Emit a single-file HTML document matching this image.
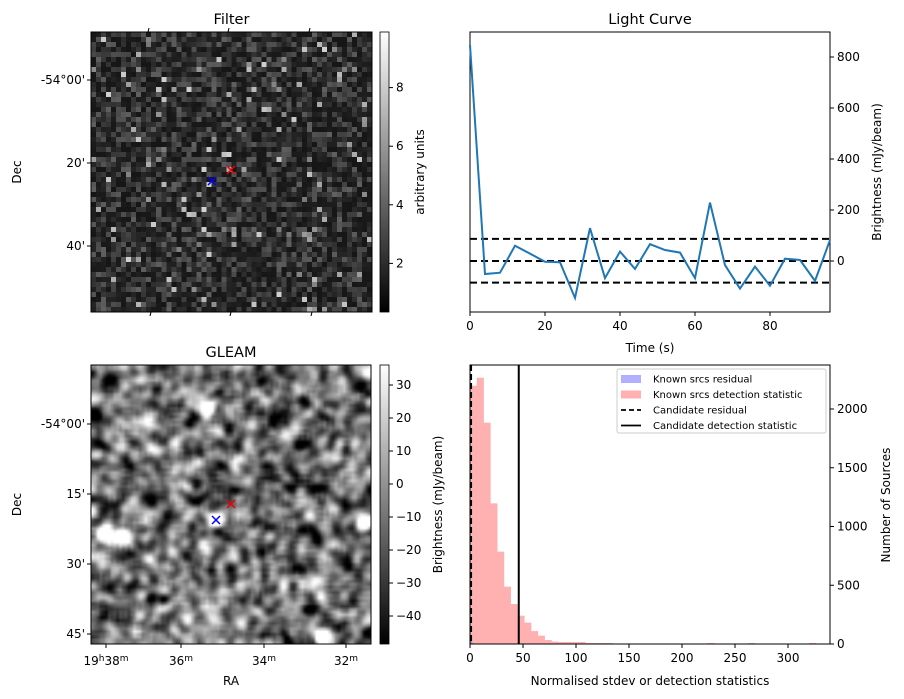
<!DOCTYPE html>
<html><head><meta charset="utf-8"><style>
body{margin:0;background:#fff;width:904px;height:699px;overflow:hidden;font-family:"Liberation Sans","DejaVu Sans",sans-serif}
svg text{font-family:"DejaVu Sans","Liberation Sans",sans-serif;font-size:12px;fill:#000}
canvas{position:absolute}
</style></head><body>
<canvas id="filt" width="56" height="56" style="left:91px;top:32px;width:281px;height:280px;image-rendering:pixelated"></canvas>
<canvas id="gleam" width="280" height="279" style="left:91px;top:365px;width:280px;height:279px"></canvas>
<svg id="s" width="904" height="699" style="position:absolute;left:0;top:0">
<defs>
<linearGradient id="gray" x1="0" y1="1" x2="0" y2="0"><stop offset="0" stop-color="#000"/><stop offset="1" stop-color="#fff"/></linearGradient>
</defs>
<g id="g"></g>
</svg>
<script>
// Light curve data
const lcTimes=[0,4,8,12,16,20,24,28,32,36,40,44,48,52,56,60,64,68,72,76,80,84,88,92,96];
const lcValues=[847,-51,-46,60,29,-3,-5,-145,129,-67,37,-31,66,43,33,-67,229,-16,-108,-22,-97,9,4,-78,82];
const lcThresholds=[87,0,-85];
const lcYTicks=[0,200,400,600,800];
const lcXTicks=[0,20,40,60,80];
// Histogram data
const histBinWidth=6.4;
const histCounts=[2198,2266,1884,1197,786,488,340,241,182,110,71,34,21,17,17,17,17,8,8,8,8,4,4,4,4,0,0,0,0,0,0,0,0,0,0,8,0,0,0,0,0,8,0,0,0,0,0,0,0,0,8];
const histResidCounts=[30,10];
const candResidual=1;
const candDetection=46;
const histYTicks=[0,500,1000,1500,2000];
const histXTicks=[0,50,100,150,200,250,300];

const NS='http://www.w3.org/2000/svg';
const G=document.getElementById('g');
function el(tag,attrs,parent,name,inter){const e=document.createElementNS(NS,tag);for(const k in attrs)e.setAttribute(k,attrs[k]);(parent||G).appendChild(e);


return e;}
function txt(x,y,s,anchor,name,extra){const t=el('text',Object.assign({x:x,y:y,'text-anchor':anchor||'middle'},extra||{}),G,name);t.textContent=s;return t;}

// ---------- Light curve ----------
const lx0=470,lx1=830,ly0=32,ly1=312;
const lxs=t=>lx0+(t-0)*(lx1-lx0)/96;
const lys=v=>261-v*0.255;
el('rect',{x:lx0,y:ly0,width:lx1-lx0,height:ly1-ly0,fill:'none',stroke:'#000','stroke-width':1},G,'lightcurve-frame');
lcThresholds.forEach((v,i)=>el('line',{x1:lx0,x2:lx1,y1:lys(v),y2:lys(v),stroke:'#000','stroke-width':2,'stroke-dasharray':'7,4'},G,'threshold-line-'+i));
let d=lcTimes.map((t,i)=>(i?'L':'M')+lxs(t)+','+lys(lcValues[i])).join('');
el('path',{d:d,fill:'none',stroke:'#1f77b4','stroke-width':2},G,'light-curve-line');
lcXTicks.forEach(t=>{el('line',{x1:lxs(t),x2:lxs(t),y1:ly1,y2:ly1+4,stroke:'#000'},G,'x-tick');txt(lxs(t),ly1+18,String(t),'middle','x-tick-label');});
lcYTicks.forEach(v=>{el('line',{x1:lx1,x2:lx1+4,y1:lys(v),y2:lys(v),stroke:'#000'},G,'y-tick');txt(lx1+7,lys(v)+4,String(v),'start','y-tick-label');});
txt(650,24,'Light Curve','middle','lightcurve-title',{style:'font-size:14.5px'});
txt(650,352,'Time (s)','middle','lightcurve-x-title');
txt(0,0,'Brightness (mJy/beam)','middle','lightcurve-y-title',{transform:'translate(881,172) rotate(-90)'});

// ---------- Histogram ----------
const hx0=470,hx1=830,hy0=365,hy1=644;
const hxs=v=>hx0+v*1.06;
const hys=c=>644-c*0.1175;
histCounts.forEach((c,i)=>{if(c>0)el('rect',{x:hxs(i*histBinWidth),y:hys(c),width:histBinWidth*1.06+0.3,height:644-hys(c),fill:'#ffb0b0'},G,'hist-bar-detection');});
histResidCounts.forEach((c,i)=>el('rect',{x:hxs(i*1.5),y:hys(c),width:1.6,height:644-hys(c),fill:'#9b7fc0'},G,'hist-bar-residual'));
el('line',{x1:hxs(candResidual),x2:hxs(candResidual),y1:hy0,y2:hy1,stroke:'#000','stroke-width':2,'stroke-dasharray':'6,3'},G,'candidate-residual-line');
el('line',{x1:hxs(candDetection),x2:hxs(candDetection),y1:hy0,y2:hy1,stroke:'#000','stroke-width':2},G,'candidate-detection-line');
el('rect',{x:hx0,y:hy0,width:hx1-hx0,height:hy1-hy0,fill:'none',stroke:'#000'},G,'histogram-frame');
histXTicks.forEach(v=>{el('line',{x1:hxs(v),x2:hxs(v),y1:hy1,y2:hy1+4,stroke:'#000'},G,'x-tick');txt(hxs(v),hy1+18,String(v),'middle','x-tick-label');});
histYTicks.forEach(v=>{el('line',{x1:hx1,x2:hx1+4,y1:hys(v),y2:hys(v),stroke:'#000'},G,'y-tick');txt(hx1+7,hys(v)+4,String(v),'start','y-tick-label');});
txt(650,685,'Normalised stdev or detection statistics','middle','histogram-x-title');
txt(0,0,'Number of Sources','middle','histogram-y-title',{transform:'translate(890,505) rotate(-90)'});
// legend
const lg=el('g',{},G,'legend');
el('rect',{x:617,y:369,width:209,height:64,fill:'#fff',stroke:'#ccc',rx:2},lg,'legend-box');
const items=[['Known srcs residual','rect','#b0b0ff'],['Known srcs detection statistic','rect','#ffb0b0'],['Candidate residual','dash'],['Candidate detection statistic','line']];
items.forEach((it,i)=>{const y=379+i*15.5;
 if(it[1]==='rect')el('rect',{x:621,y:y-4,width:20,height:8,fill:it[2]},lg,'legend-swatch');
 else el('line',{x1:621,x2:641,y1:y,y2:y,stroke:'#000','stroke-width':1.8,'stroke-dasharray':it[1]==='dash'?'5,3':'none'},lg,'legend-swatch');
 const t=el('text',{x:653,y:y+3.5,style:'font-size:10px'},lg,'legend-entry');t.textContent=it[0];});

// ---------- Image axes ----------
function imgAxes(x0,y0,x1,y1,title,yl,yt,cbTicks,cbLabel,cbMap,pre){
 el('rect',{x:x0,y:y0,width:x1-x0,height:y1-y0,fill:'none',stroke:'#000'},G,pre+'-frame');
 txt((x0+x1)/2,y0-8,title,'middle',pre+'-title',{style:'font-size:14.5px'});
 yt.forEach((y,i)=>{el('line',{x1:x0-4,x2:x0,y1:y,y2:y,stroke:'#000'},G,pre+'-y-tick');txt(x0-6,y+4,yl[i],'end',pre+'-y-tick-label');});
 txt(0,0,'Dec','middle',pre+'-y-title',{transform:'translate(21,'+((y0+y1)/2)+') rotate(-90)'});
 el('rect',{x:380,y:y0,width:9,height:y1-y0,fill:'url(#gray)',stroke:'#000','stroke-width':0.8},G,pre+'-colorbar');
 cbTicks.forEach(v=>{const y=cbMap(v);el('line',{x1:389,x2:393,y1:y,y2:y,stroke:'#000'},G,pre+'-cb-tick');txt(396,y+4,String(v).replace('-','\u2212'),'start',pre+'-cb-tick-label');});
 txt(0,0,cbLabel,'middle',pre+'-cb-title',{transform:'translate('+(pre==='filter'?424:442)+','+((y0+y1)/2)+') rotate(-90)'});
}
imgAxes(91,32,372,312,'Filter',['-54°00\'','20\'','40\''],[80,163,246],[2,4,6,8],'arbitrary units',v=>322-v*29.3,'filter');
[148,228,309].forEach(x=>{el('line',{x1:x,x2:x+1,y1:32,y2:28,stroke:'#000'},G,'filter-top-tick');el('line',{x1:x+3,x2:x+2,y1:312,y2:316,stroke:'#000'},G,'filter-bottom-tick');});
imgAxes(91,365,371,644,'GLEAM',['-54°00\'','15\'','30\'','45\''],[424,494,564,634],[30,20,10,0,-10,-20,-30,-40],'Brightness (mJy/beam)',v=>484-v*3.3,'gleam');
[[106,'19h38m'],[181,'36m'],[264,'34m'],[346,'32m']].forEach(([x,s])=>{el('line',{x1:x,x2:x,y1:644,y2:648,stroke:'#000'},G,'ra-tick');});
txt(106,665,'19','middle','ra-tick-label').innerHTML='19<tspan dy="-4" style="font-size:9px">h</tspan><tspan dy="4">38</tspan><tspan dy="-4" style="font-size:9px">m</tspan>';
[[181,'36'],[264,'34'],[346,'32']].forEach(([x,s])=>{txt(x,665,'','middle','ra-tick-label').innerHTML=s+'<tspan dy="-4" style="font-size:9px">m</tspan>';});
txt(231,685,'RA','middle','ra-axis-title');
// markers
function xm(x,y,c,n){el('path',{d:`M${x-4},${y-4}L${x+4},${y+4}M${x-4},${y+4}L${x+4},${y-4}`,stroke:c,'stroke-width':1.5},G,n);}
xm(231,170,'#e00','filter-candidate-marker');xm(212,181,'#00f','filter-source-marker');
xm(231,504,'#e00','gleam-candidate-marker');xm(216,520,'#00f','gleam-source-marker');

// ---------- image textures ----------
let seed=7;function rnd(){seed=(seed*16807)%2147483647;return seed/2147483647;}
(function(){const c=document.getElementById('filt').getContext('2d');const im=c.createImageData(56,56);
 for(let i=0;i<56*56;i++){let r=rnd();let v=22+r*r*75; if(rnd()<0.035)v=120+rnd()*90;
  im.data[i*4]=im.data[i*4+1]=im.data[i*4+2]=v;im.data[i*4+3]=255;}
 [[27,27]].forEach(([x,y])=>{const k=(y*56+x)*4;im.data[k]=im.data[k+1]=im.data[k+2]=170;});
 c.putImageData(im,0,0);})();
(function(){const N=100;let a=[];for(let i=0;i<N*N;i++)a.push(rnd()-0.5);
 function blur(a){const b=new Array(N*N).fill(0);for(let y=0;y<N;y++)for(let x=0;x<N;x++){let s=0,n=0;for(let dy=-1;dy<=1;dy++)for(let dx=-1;dx<=1;dx++){const xx=x+dx,yy=y+dy;if(xx>=0&&yy>=0&&xx<N&&yy<N){s+=a[yy*N+xx];n++;}}b[y*N+x]=s/n;}return b;}
 a=blur(blur(a));
 const blobs=[[41,15],[4,60],[11,61],[97,56],[82,97],[44,55]];
 blobs.forEach(([bx,by])=>{for(let y=0;y<N;y++)for(let x=0;x<N;x++){const d2=(x-bx)**2+(y-by)**2;a[y*N+x]+=0.5*Math.exp(-d2/6);}});
 const sm=document.createElement('canvas');sm.width=N;sm.height=N;const sc=sm.getContext('2d');const im=sc.createImageData(N,N);
 for(let i=0;i<N*N;i++){let v=115+a[i]*750;v=Math.max(0,Math.min(255,v));im.data[i*4]=im.data[i*4+1]=im.data[i*4+2]=v;im.data[i*4+3]=255;}
 sc.putImageData(im,0,0);const c=document.getElementById('gleam').getContext('2d');c.imageSmoothingEnabled=true;c.drawImage(sm,0,0,280,279);})();
</script>
</body></html>
